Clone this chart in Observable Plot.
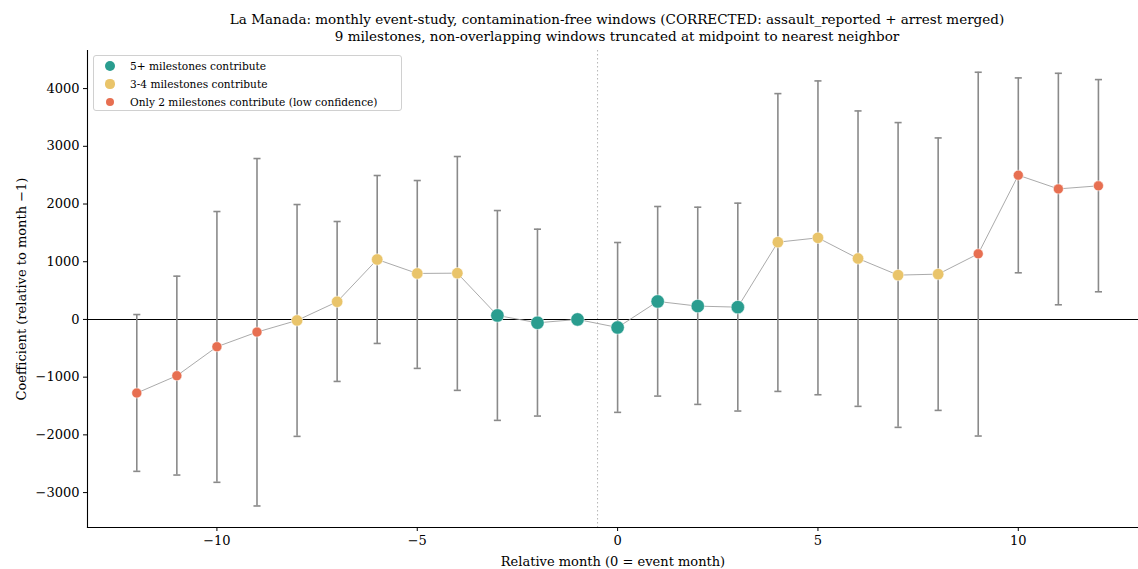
<!DOCTYPE html>
<html>
<head>
<meta charset="utf-8">
<script src="https://cdn.jsdelivr.net/npm/d3@7"></script>
<script src="https://cdn.jsdelivr.net/npm/@observablehq/plot@0.6"></script>
<style>
  html, body { margin: 0; padding: 0; background: #fff; overflow: hidden; }
  #wrap { position: relative; width: 1138px; height: 569px; font-family: "DejaVu Serif", serif; }
  #title { height: 50px; box-sizing: border-box; padding-top: 11px; padding-left: 96px; text-align: center; font-size: 13.5px; line-height: 17px; color: #000; }
  #legend { position: absolute; left: 93px; top: 55px; width: 307px; height: 54px; border: 1px solid #d0d0d0; border-radius: 3px; background: rgba(255,255,255,0.85); font-size: 10.6px; }
  .row { position: absolute; left: 0; height: 18px; line-height: 18px; }
  .sw { position: absolute; border-radius: 50%; }
  .lab { position: absolute; left: 36px; white-space: nowrap; }
</style>
</head>
<body>
<div id="wrap">
  <div id="title">La Manada: monthly event-study, contamination-free windows (CORRECTED: assault_reported + arrest merged)<br>9 milestones, non-overlapping windows truncated at midpoint to nearest neighbor</div>
  <div id="chart"></div>
  <div id="legend"></div>
</div>
<script>
const months = [-12, -11, -10, -9, -8, -7, -6, -5, -4, -3, -2, -1, 0, 1, 2, 3, 4, 5, 6, 7, 8, 9, 10, 11, 12];
const coef   = [-1275, -975, -473, -219, -17, 306, 1039, 797, 802, 69, -58, 0, -139, 312, 231, 213, 1339, 1414, 1056, 768, 785, 1137, 2499, 2262, 2315];
const lower  = [-2632, -2696, -2822, -3232, -2026, -1074, -416, -848, -1229, -1749, -1674, null, -1610, -1328, -1472, -1587, -1247, -1305, -1506, -1870, -1576, -2020, 808, 254, 479];
const upper  = [85, 750, 1870, 2788, 1991, 1697, 2494, 2407, 2823, 1887, 1564, null, 1333, 1957, 1945, 2015, 3913, 4133, 3613, 3411, 3145, 4283, 4185, 4265, 4156];
const tier   = ["2","2","2","2","3-4","3-4","3-4","3-4","3-4","5+","5+","5+","5+","5+","5+","5+","3-4","3-4","3-4","3-4","3-4","2","2","2","2"];

const tierNames  = ["5+", "3-4", "2"];
const tierLabels = ["5+ milestones contribute", "3-4 milestones contribute", "Only 2 milestones contribute (low confidence)"];
const tierColors = ["#2a9d8f", "#e9c46a", "#e76f51"];
const tierRadius = [6.7, 5.7, 5.0];
const xTicks = [-10, -5, 0, 5, 10];
const yTicks = [-3000, -2000, -1000, 0, 1000, 2000, 3000, 4000];

const data = months.map((m, i) => ({month: m, coef: coef[i], lo: lower[i], hi: upper[i], tier: tier[i]}));
const bars = data.filter(d => d.lo != null);

const capSymbol = {
  draw(context, size) {
    const w = Math.sqrt(size) / 2;
    context.moveTo(-w, 0);
    context.lineTo(w, 0);
  }
};
const fmt = d => (d < 0 ? "\u2212" : "") + Math.abs(d);

const chart = Plot.plot({
  width: 1138,
  height: 519,
  marginLeft: 87,
  marginRight: 0,
  marginTop: 0,
  marginBottom: 42,
  style: {fontFamily: "DejaVu Serif", fontSize: "13px", color: "#000", background: "transparent"},
  x: {domain: [-13.23, 13.0]},
  y: {domain: [-3605, 4660]},
  marks: [
    Plot.ruleX([-0.5], {stroke: "#b5b5b5", strokeDasharray: "1.5,2.5", strokeWidth: 1}),
    Plot.ruleY([0], {stroke: "#000", strokeWidth: 1.1}),
    Plot.ruleX(bars, {x: "month", y1: "lo", y2: "hi", stroke: "#8a8a8a", strokeWidth: 1.6}),
    Plot.dot(bars, {x: "month", y: "lo", symbol: capSymbol, r: 4, stroke: "#8a8a8a", strokeWidth: 1.6, fill: "none"}),
    Plot.dot(bars, {x: "month", y: "hi", symbol: capSymbol, r: 4, stroke: "#8a8a8a", strokeWidth: 1.6, fill: "none"}),
    Plot.line(data, {x: "month", y: "coef", stroke: "#a0a0a0", strokeWidth: 0.9}),
    ...tierNames.map((t, i) => Plot.dot(data.filter(d => d.tier === t), {x: "month", y: "coef", fill: tierColors[i], r: tierRadius[i], stroke: "#fff", strokeWidth: 0.5})),
    Plot.frame({anchor: "left", stroke: "#000", strokeWidth: 1.1}),
    Plot.frame({anchor: "bottom", stroke: "#000", strokeWidth: 1.1}),
    Plot.axisX({ticks: xTicks, tickFormat: fmt, tickSize: 4, tickPadding: 4, label: "Relative month (0 = event month)", labelAnchor: "center", labelOffset: 38, labelArrow: "none"}),
    Plot.axisY({ticks: yTicks, tickFormat: fmt, tickSize: 4, tickPadding: 4, label: "Coefficient (relative to month \u22121)", labelAnchor: "center", labelOffset: 71, labelArrow: "none"})
  ]
});
chart.querySelectorAll("text").forEach(t => t.setAttribute("fill", "#000"));
document.getElementById("chart").appendChild(chart);

const legend = document.getElementById("legend");
tierNames.forEach((t, i) => {
  const row = document.createElement("div");
  row.className = "row";
  row.style.top = (i * 18 + 1) + "px";
  row.style.width = "300px";
  const sw = document.createElement("span");
  sw.className = "sw";
  const r = [5.2, 4.6, 4.1][i];
  sw.style.width = sw.style.height = (2 * r) + "px";
  sw.style.left = (16 - r) + "px";
  sw.style.top = (9 - r) + "px";
  sw.style.background = tierColors[i];
  const lab = document.createElement("span");
  lab.className = "lab";
  lab.textContent = tierLabels[i];
  row.appendChild(sw);
  row.appendChild(lab);
  legend.appendChild(row);
});
</script>
</body>
</html>
